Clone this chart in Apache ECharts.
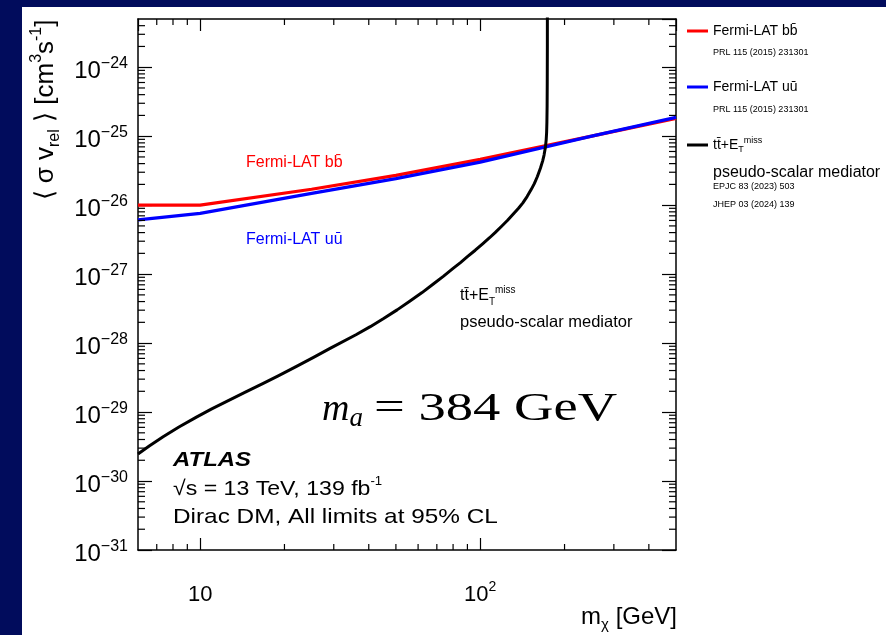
<!DOCTYPE html>
<html><head><meta charset="utf-8">
<script src="https://cdn.jsdelivr.net/npm/echarts@6/dist/echarts.min.js"></script>
<style>html,body{margin:0;padding:0;background:#fff}#c{width:886px;height:635px}</style>
</head><body><div id="c"></div>
<script>
// ---- data (values in cm^3 s^-1, mass in GeV) ----
const xRange = [6, 500];
const yRange = [1e-31, 5e-24];
const fermiBBMass  = [6, 10, 25, 50, 100, 250, 500];
const fermiBBLimit = [1.0e-26, 1.0e-26, 1.7e-26, 2.7e-26, 4.6e-26, 1.0e-25, 1.81e-25];
const fermiUUMass  = [6, 10, 25, 50, 100, 250, 500];
const fermiUULimit = [6.1e-27, 7.6e-27, 1.48e-26, 2.42e-26, 4.2e-26, 1.0e-25, 1.87e-25];
const ttMass  = [6, 6.6, 7.4, 8.4, 9.7, 11, 12.5, 14.5, 16.8, 19, 22, 25.5, 29.1, 36, 40.5, 45.2, 50.5, 56, 62, 68, 74, 80, 85, 90, 96, 102, 108, 113, 119, 125, 131, 137, 142, 147, 152, 156, 160, 164, 167, 169, 171, 172, 172.6, 173.0, 173.3, 173.5, 173.65, 173.75];
const ttLimit = [2.46e-30, 3.24e-30, 4.42e-30, 6.07e-30, 8.45e-30, 1.11e-29, 1.44e-29, 1.94e-29, 2.6e-29, 3.34e-29, 4.55e-29, 6.25e-29, 8.4e-29, 1.32e-28, 1.73e-28, 2.27e-28, 3.03e-28, 4.03e-28, 5.4e-28, 7.2e-28, 9.35e-28, 1.21e-27, 1.47e-27, 1.79e-27, 2.22e-27, 2.75e-27, 3.37e-27, 4.0e-27, 4.91e-27, 6.0e-27, 7.4e-27, 9.0e-27, 1.08e-26, 1.33e-26, 1.68e-26, 2.05e-26, 2.6e-26, 3.43e-26, 4.35e-26, 5.32e-26, 7.05e-26, 8.87e-26, 1.13e-25, 1.6e-25, 2.7e-25, 6e-25, 2e-24, 1e-22];
const xMinorTicks = [7, 8, 9, 20, 30, 40, 50, 60, 70, 80, 90, 200, 300, 400];
const yMinorMultipliers = [2, 3, 4, 5, 6, 7, 8, 9];
const yDecades = [-31, -30, -29, -28, -27, -26, -25, -24];
const seriesNames = ['Fermi-LAT bb\u0304', 'Fermi-LAT u\u016B', 'tt\u0304+E_T^miss'];

// ECharts 6 log axis fails for extents near 1e-31, so the y scale is plotted in units of 1e-31 cm^3 s^-1.
const Y_UNIT_EXP = -31;
const yScale = v => v * Math.pow(10, -Y_UNIT_EXP);
const yR = yRange.map(yScale);

const yMinorTicks = [];
yDecades.forEach(d => yMinorMultipliers.forEach(m => {
  const v = m * Math.pow(10, d);
  if (v > yRange[0] && v < yRange[1]) yMinorTicks.push(yScale(v));
}));

const FONT = '"Liberation Sans", Arial, Helvetica, sans-serif';
const SERIF = '"Liberation Serif", "DejaVu Serif", serif';
const SUPMINUS = '\u2212';

function pairs(xs, ys) { return xs.map((x, i) => [x, yScale(ys[i])]); }

const chart = echarts.init(document.getElementById('c'));

function tickRender(isX) {
  return function (params, api) {
    const v = api.value(isX ? 0 : 1);
    const L = isX ? 6 : 7;
    const st = { stroke: '#000', lineWidth: 1.2 };
    if (isX) {
      const a = api.coord([v, yR[0]]), b = api.coord([v, yR[1]]);
      return { type: 'group', children: [
        { type: 'line', shape: { x1: a[0], y1: a[1], x2: a[0], y2: a[1] - L }, style: st },
        { type: 'line', shape: { x1: b[0], y1: b[1], x2: b[0], y2: b[1] + L }, style: st }
      ]};
    } else {
      const a = api.coord([xRange[0], v]), b = api.coord([xRange[1], v]);
      return { type: 'group', children: [
        { type: 'line', shape: { x1: a[0], y1: a[1], x2: a[0] + L, y2: a[1] }, style: st },
        { type: 'line', shape: { x1: b[0], y1: b[1], x2: b[0] - L, y2: b[1] }, style: st }
      ]};
    }
  };
}

function txt(x, y, text, font, extra, fill) {
  return Object.assign({ type: 'text', x: x, y: y, style: { text: text, font: font, fill: fill || '#000', verticalAlign: 'middle' } }, extra || {});
}

const axisLineStyle = { color: '#000', width: 1.5 };

const option = {
  backgroundColor: '#010C5C',
  animation: false,
  grid: { left: 138, top: 19, right: 210, bottom: 85, containLabel: false },
  xAxis: [{
    type: 'log', logBase: 10, min: xRange[0], max: xRange[1], position: 'bottom',
    axisLine: { lineStyle: axisLineStyle },
    axisTick: { inside: true, length: 12, lineStyle: { color: '#000', width: 1.2 } },
    splitLine: { show: false },
    axisLabel: {
      showMinLabel: false, showMaxLabel: false, margin: 30,
      formatter: v => Math.abs(v - 10) < 1e-6 ? '{b|10}' : '{b|10}{s|' + Math.round(Math.log10(v)) + '}',
      rich: {
        b: { fontFamily: FONT, fontSize: 22, color: '#000', lineHeight: 30 },
        s: { fontFamily: FONT, fontSize: 14, color: '#000', lineHeight: 14, verticalAlign: 'top' }
      }
    }
  }, {
    type: 'log', logBase: 10, min: xRange[0], max: xRange[1], position: 'top',
    axisLine: { lineStyle: axisLineStyle },
    axisTick: { inside: true, length: 12, lineStyle: { color: '#000', width: 1.2 } },
    splitLine: { show: false }, axisLabel: { show: false }
  }],
  yAxis: [{
    type: 'log', logBase: 10, min: yR[0], max: yR[1], position: 'left',
    axisLine: { lineStyle: axisLineStyle },
    axisTick: { inside: true, length: 14, lineStyle: { color: '#000', width: 1.2 } },
    splitLine: { show: false },
    axisLabel: {
      showMinLabel: true, showMaxLabel: false, margin: 10, padding: [9, 0, 0, 0],
      formatter: v => '{b|10}{s|' + SUPMINUS + (-(Math.round(Math.log10(v)) + Y_UNIT_EXP)) + '}',
      rich: {
        b: { fontFamily: FONT, fontSize: 24, color: '#000', lineHeight: 32 },
        s: { fontFamily: FONT, fontSize: 16, color: '#000', lineHeight: 16, verticalAlign: 'top' }
      }
    }
  }, {
    type: 'log', logBase: 10, min: yR[0], max: yR[1], position: 'right',
    axisLine: { lineStyle: axisLineStyle },
    axisTick: { inside: true, length: 14, lineStyle: { color: '#000', width: 1.2 } },
    splitLine: { show: false }, axisLabel: { show: false }
  }],
  legend: {
    orient: 'vertical', left: 687, top: 24, padding: 0, itemWidth: 21, itemHeight: 3, itemGap: 42,
    icon: 'rect', data: seriesNames, selectedMode: false,
    textStyle: { fontFamily: FONT, fontSize: 14, color: '#000',
      rich: {
        n: { fontFamily: FONT, fontSize: 14, color: '#000', lineHeight: 18 },
        sub: { fontFamily: FONT, fontSize: 9, color: '#000', lineHeight: 9, verticalAlign: 'bottom' },
        sup: { fontFamily: FONT, fontSize: 9, color: '#000', lineHeight: 9, verticalAlign: 'top' }
      }
    },
    formatter: name => name === seriesNames[2] ? '{n|tt\u0304+E}{sub|T}{sup|miss}' : name
  },
  graphic: [
    { type: 'rect', z: -100, shape: { x: 22, y: 7, width: 864, height: 628 }, style: { fill: '#fff' } },
    txt(246, 163, 'Fermi-LAT bb\u0304', '16px ' + FONT, null, '#f00'),
    txt(246, 240, 'Fermi-LAT u\u016B', '16px ' + FONT, null, '#00f'),
    { type: 'text', x: 460, y: 296, style: { text: '{n|tt\u0304+E}{sub|T}{sup|miss}', verticalAlign: 'middle', rich: {
        n: { fontFamily: FONT, fontSize: 16, fill: '#000', lineHeight: 22 },
        sub: { fontFamily: FONT, fontSize: 10, fill: '#000', lineHeight: 10, verticalAlign: 'bottom' },
        sup: { fontFamily: FONT, fontSize: 10, fill: '#000', lineHeight: 10, verticalAlign: 'top' } } } },
    txt(460, 322, 'pseudo-scalar mediator', '16.5px ' + FONT),
    { type: 'text', x: 322, y: 410, style: { text: '{m|m}{a|a}', verticalAlign: 'middle', rich: {
        m: { fontFamily: SERIF, fontStyle: 'italic', fontSize: 38, fill: '#000', lineHeight: 44 },
        a: { fontFamily: SERIF, fontStyle: 'italic', fontSize: 27, fill: '#000', lineHeight: 27, verticalAlign: 'bottom' } } } },
    txt(374, 410, '= 384 GeV', '39px ' + SERIF, { scaleX: 1.4 }),
    txt(173, 460, 'ATLAS', 'italic bold 21px ' + FONT, { scaleX: 1.14 }),
    { type: 'text', x: 173, y: 489, scaleX: 1.1, style: { text: '{n|\u221As = 13 TeV, 139 fb}{s|-1}', verticalAlign: 'middle', rich: {
        n: { fontFamily: FONT, fontSize: 21, fill: '#000', lineHeight: 26 },
        s: { fontFamily: FONT, fontSize: 12, fill: '#000', lineHeight: 12, verticalAlign: 'top' } } } },
    txt(173, 517, 'Dirac DM, All limits at 95% CL', '21px ' + FONT, { scaleX: 1.16 }),
    txt(713, 53, 'PRL 115 (2015) 231301', '9px ' + FONT),
    txt(713, 110, 'PRL 115 (2015) 231301', '9px ' + FONT),
    txt(713, 173, 'pseudo-scalar mediator', '16px ' + FONT),
    txt(713, 187, 'EPJC 83 (2023) 503', '9px ' + FONT),
    txt(713, 205, 'JHEP 03 (2024) 139', '9px ' + FONT),
    { type: 'text', x: 46, y: 110, rotation: Math.PI / 2, style: {
        text: '{n|\u27E8 \u03C3 v}{sub|rel}{n| \u27E9 [cm}{sup|3}{n|s}{sup|-1}{n|]}', align: 'center', verticalAlign: 'middle', rich: {
        n: { fontFamily: FONT, fontSize: 26, fill: '#000', lineHeight: 34 },
        sub: { fontFamily: FONT, fontSize: 16, fill: '#000', lineHeight: 16, verticalAlign: 'bottom' },
        sup: { fontFamily: FONT, fontSize: 16, fill: '#000', lineHeight: 16, verticalAlign: 'top' } } } },
    { type: 'text', x: 677, y: 617, style: {
        text: '{n|m}{sub|\u03C7}{n| [GeV]}', align: 'right', verticalAlign: 'middle', rich: {
        n: { fontFamily: FONT, fontSize: 24, fill: '#000', lineHeight: 30 },
        sub: { fontFamily: FONT, fontSize: 15, fill: '#000', lineHeight: 15, verticalAlign: 'bottom' } } } }
  ],
  series: [
    { name: seriesNames[0], type: 'line', data: pairs(fermiBBMass, fermiBBLimit), xAxisIndex: 0, yAxisIndex: 0,
      showSymbol: false, lineStyle: { color: '#FF0000', width: 3.2 }, itemStyle: { color: '#FF0000' }, z: 3 },
    { name: seriesNames[1], type: 'line', data: pairs(fermiUUMass, fermiUULimit), xAxisIndex: 0, yAxisIndex: 0,
      showSymbol: false, lineStyle: { color: '#0000FF', width: 3.2 }, itemStyle: { color: '#0000FF' }, z: 4 },
    { name: seriesNames[2], type: 'line', data: pairs(ttMass, ttLimit), xAxisIndex: 0, yAxisIndex: 0,
      showSymbol: false, smooth: false, lineStyle: { color: '#000', width: 3, join: 'round' }, itemStyle: { color: '#000' }, z: 5 },
    { type: 'custom', xAxisIndex: 0, yAxisIndex: 0, data: xMinorTicks.map(v => [v, yR[0]]),
      renderItem: tickRender(true), silent: true, clip: false, z: 6 },
    { type: 'custom', xAxisIndex: 0, yAxisIndex: 0, data: yMinorTicks.map(v => [xRange[0], v]),
      renderItem: tickRender(false), silent: true, clip: false, z: 6 }
  ]
};
chart.setOption(option);
</script></body></html>
